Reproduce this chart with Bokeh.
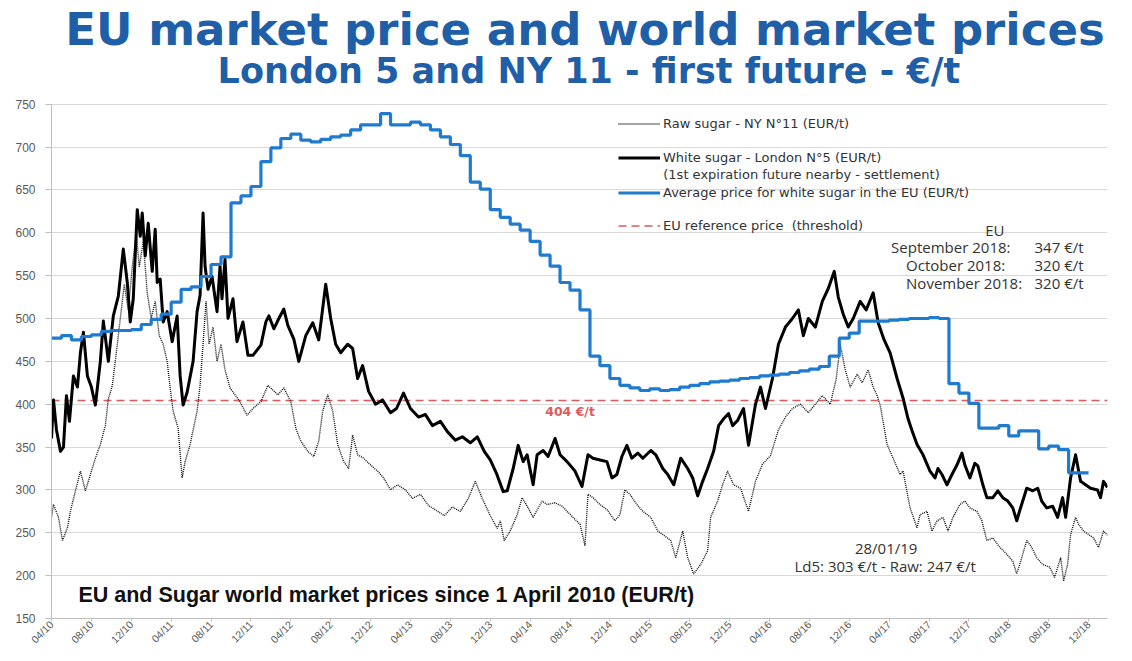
import math
from bokeh.plotting import figure
from bokeh.models import FixedTicker, Range1d, Label, Legend, LegendItem
from bokeh.embed import file_html
from bokeh.resources import INLINE

# ---------------- data ----------------
# time axis: months elapsed since 1 April 2010
tick_months = [0, 4, 8, 12, 16, 20, 24, 28, 32, 36, 40, 44, 48, 52, 56, 60, 64, 68,
               72, 76, 80, 84, 88, 92, 96, 100, 104]
tick_labels = ["04/10", "08/10", "12/10", "04/11", "08/11", "12/11", "04/12", "08/12",
               "12/12", "04/13", "08/13", "12/13", "04/14", "08/14", "12/14", "04/15",
               "08/15", "12/15", "04/16", "08/16", "12/16", "04/17", "08/17", "12/17",
               "04/18", "08/18", "12/18"]
y_ticks = [150, 200, 250, 300, 350, 400, 450, 500, 550, 600, 650, 700, 750]

# Average price for white sugar in the EU (monthly, Apr 2010 .. Nov 2018)
eu_month = list(range(104))
eu_avg = [477, 480, 475, 479, 481, 485, 486, 486, 487, 493, 499, 505, 519, 534, 537, 549,
          563, 572, 635, 643, 654, 683, 699, 710, 715, 708, 706, 709, 712, 714, 720, 726,
          726, 739, 726, 726, 729, 726, 720, 712, 703, 690, 659, 651, 627, 618, 610, 603,
          590, 574, 561, 542, 533, 510, 456, 445, 430, 422, 419, 416, 418, 416, 417, 420,
          422, 424, 426, 427, 428, 430, 431, 433, 434, 435, 437, 439, 441, 444, 456, 477,
          483, 497, 497, 497, 498, 499, 500, 500, 501, 500, 424, 413, 401, 372, 372, 375,
          363, 369, 369, 348, 351, 347, 320, 320]

# White sugar - London N°5 (EUR/t)
ld5_t = [0.0, 0.2, 0.5, 0.9, 1.2, 1.5, 1.8, 2.2, 2.6, 2.9, 3.2, 3.6, 4.0, 4.4, 4.9, 5.2,
         5.7, 6.2, 6.7, 7.2, 7.6, 7.9, 8.2, 8.6, 8.9, 9.1, 9.4, 9.7, 10.1, 10.4, 10.6, 10.9,
         11.2, 11.6, 12.1, 12.6, 12.9, 13.2, 13.6, 14.2, 14.6, 14.9, 15.2, 15.4, 15.7, 16.1,
         16.6, 16.9, 17.1, 17.4, 17.7, 18.2, 18.6, 19.2, 19.7, 20.2, 21.0, 21.5, 21.8, 22.3,
         22.8, 23.3, 23.7, 24.3, 24.8, 25.5, 26.2, 26.8, 27.5, 28.0, 28.5, 29.0, 29.7, 30.2,
         30.7, 31.2, 31.8, 32.5, 33.2, 34.0, 34.6, 35.3, 36.0, 36.8, 37.5, 38.2, 39.0, 39.7,
         40.5, 41.2, 42.0, 42.7, 43.4, 44.0, 44.6, 45.3, 45.7, 46.3, 46.8, 47.3, 47.7, 48.3,
         48.7, 49.3, 49.8, 50.5, 51.0, 51.7, 52.5, 53.2, 53.8, 54.3, 55.0, 55.7, 56.2, 56.7,
         57.2, 57.7, 58.2, 58.8, 59.3, 60.1, 60.6, 61.3, 61.8, 62.4, 63.1, 63.8, 64.3, 64.8,
         65.3, 65.8, 66.4, 66.9, 67.4, 67.9, 68.3, 68.8, 69.4, 69.9, 70.6, 71.1, 71.6, 72.3,
         72.9, 73.6, 74.3, 74.9, 75.4, 75.9, 76.6, 77.3, 77.9, 78.5, 78.9, 79.4, 79.9, 80.4,
         81.1, 81.7, 82.4, 82.9, 83.5, 84.1, 84.8, 85.4, 85.9, 86.3, 86.8, 87.4, 88.1, 88.6,
         88.9, 89.3, 89.8, 90.3, 90.8, 91.3, 91.6, 92.1, 92.6, 92.9, 93.4, 93.8, 94.4, 94.9,
         95.4, 95.9, 96.4, 96.8, 97.1, 97.8, 98.4, 98.9, 99.3, 99.8, 100.4, 100.9, 101.4,
         101.7, 102.2, 102.7, 103.2, 103.7, 104.2, 104.9, 105.2, 105.5, 105.9]
ld5_v = [360, 405, 370, 345, 350, 410, 380, 433, 420, 460, 484, 433, 420, 399, 450, 497,
         450, 503, 526, 581, 542, 496, 523, 627, 596, 623, 573, 611, 555, 604, 542, 546,
         496, 508, 473, 503, 433, 399, 414, 450, 508, 527, 623, 561, 534, 549, 508, 561,
         523, 569, 500, 523, 473, 496, 457, 457, 469, 496, 503, 488, 500, 511, 492, 476,
         450, 480, 495, 475, 540, 500, 470, 460, 470, 465, 430, 445, 415, 400, 405, 390,
         395, 413, 395, 385, 388, 375, 380, 368, 358, 362, 355, 362, 345, 335, 320, 298,
         299, 325, 352, 333, 341, 306, 341, 346, 339, 360, 341, 333, 322, 304, 341, 337,
         335, 333, 314, 318, 339, 352, 337, 343, 337, 346, 341, 325, 318, 306, 337, 325,
         314, 293, 310, 325, 345, 375, 383, 389, 375, 381, 395, 352, 400, 420, 395, 430,
         470, 490, 500, 510, 480, 500, 490, 520, 535, 555, 525, 505, 490, 500, 520, 510,
         530, 495, 475, 460, 430, 407, 383, 369, 353, 341, 322, 314, 325, 318, 306, 318,
         329, 343, 329, 314, 331, 328, 306, 291, 291, 299, 291, 287, 279, 264, 276, 302,
         299, 302, 287, 279, 281, 268, 291, 268, 314, 341, 310, 306, 302, 300, 291, 310,
         303]

# Raw sugar - NY N°11 (EUR/t)
raw_t = [0.0, 0.2, 0.7, 1.1, 1.6, 1.9, 2.4, 2.9, 3.4, 3.9, 4.4, 4.9, 5.4, 5.7, 6.1, 6.5,
         6.9, 7.3, 7.7, 8.1, 8.5, 8.8, 9.2, 9.6, 10.0, 10.4, 10.8, 11.2, 11.6, 11.9, 12.2,
         12.7, 13.1, 13.4, 13.9, 14.6, 14.9, 15.2, 15.5, 15.8, 16.2, 16.6, 17.0, 17.4, 17.9,
         18.9, 19.6, 20.2, 21.0, 21.7, 22.7, 23.3, 24.0, 24.5, 25.0, 25.7, 26.3, 26.8, 27.2,
         27.7, 28.2, 28.7, 29.3, 29.8, 30.2, 30.7, 31.3, 32.0, 32.7, 33.3, 34.0, 34.7, 35.5,
         36.2, 37.0, 37.8, 38.6, 39.4, 40.2, 41.0, 41.8, 42.5, 43.2, 44.0, 44.7, 45.0, 45.4,
         46.0, 46.7, 47.2, 47.8, 48.3, 49.2, 49.7, 50.5, 51.2, 51.7, 52.3, 53.0, 53.5, 53.8,
         54.3, 55.0, 55.7, 56.5, 57.0, 57.5, 58.0, 58.7, 59.3, 60.1, 60.8, 61.3, 62.1, 62.6,
         63.3, 63.8, 64.4, 65.1, 65.8, 66.1, 66.8, 67.3, 67.8, 68.4, 69.1, 69.9, 70.6, 71.3,
         72.1, 72.9, 73.6, 74.3, 75.1, 75.9, 76.6, 77.3, 78.1, 78.7, 79.1, 79.6, 80.1, 80.8,
         81.3, 81.9, 82.4, 82.8, 83.1, 83.8, 84.4, 85.1, 85.4, 86.1, 86.8, 87.1, 87.8, 88.3,
         88.8, 89.4, 89.9, 90.4, 91.1, 91.6, 92.1, 92.8, 93.3, 93.8, 94.4, 95.1, 95.8, 96.4,
         96.8, 97.3, 97.8, 98.3, 98.8, 99.4, 100.1, 100.6, 101.2, 101.5, 101.9, 102.2, 102.7,
         103.0, 103.5, 104.0, 104.5, 105.0, 105.5, 105.9]
raw_v = [268, 283, 268, 241, 256, 275, 299, 322, 299, 318, 337, 353, 375, 406, 422, 460,
         500, 540, 510, 560, 600, 560, 590, 530, 500, 520, 480, 470, 450, 419, 392, 372,
         314, 333, 353, 392, 422, 470, 520, 470, 490, 450, 470, 440, 419, 403, 387, 395,
         403, 422, 411, 419, 403, 372, 357, 345, 339, 357, 392, 411, 392, 353, 333, 325,
         364, 341, 337, 329, 322, 314, 300, 306, 300, 290, 295, 282, 276, 270, 280, 275,
         290, 310, 290, 270, 255, 264, 241, 252, 271, 291, 279, 268, 287, 283, 285, 281,
         275, 268, 260, 235, 295, 291, 283, 277, 264, 271, 300, 295, 283, 275, 268, 252,
         248, 241, 221, 252, 221, 202, 213, 229, 268, 287, 306, 322, 306, 302, 275, 310,
         330, 340, 370, 385, 395, 400, 390, 400, 410, 400, 430, 470, 440, 420, 435, 425,
         440, 420, 410, 399, 353, 337, 318, 322, 279, 256, 271, 275, 252, 264, 268, 252,
         268, 283, 287, 279, 275, 264, 241, 244, 233, 225, 217, 202, 221, 241, 233, 221,
         213, 210, 198, 221, 194, 213, 248, 268, 260, 252, 248, 244, 233, 252, 247]

ref_price = 404

# ---------------- styling ----------------
BLUE_TITLE = "#1F5FA8"
BLUE_LINE = "#1E7BCF"
RED = "#E05A5A"
GREY_TXT = "#595959"
LEG_TXT = "#333333"

# The plotting frame reaches the top of the canvas so that the two title lines can
# sit above the value axis (which is bounded to 150..750).
p = figure(width=1116, height=652, output_backend="svg", toolbar_location=None,
           title=None, x_range=Range1d(0, 105.9), y_range=Range1d(150, 871),
           min_border_left=51, min_border_right=9, min_border_bottom=31,
           min_border_top=0)
p.outline_line_color = None
p.background_fill_color = "white"
p.border_fill_color = "white"

# axes
x_ticker = FixedTicker(ticks=tick_months)
y_ticker = FixedTicker(ticks=y_ticks)
p.xaxis.ticker = x_ticker
p.xaxis.major_label_overrides = {m: l for m, l in zip(tick_months, tick_labels)}
p.xaxis.major_label_orientation = math.pi / 4
p.xaxis.minor_tick_line_color = None
p.xaxis.major_tick_out = 3
p.xaxis.major_tick_in = 0
p.xaxis.major_label_standoff = 1
p.yaxis.ticker = y_ticker
p.yaxis.bounds = (150, 750)
p.yaxis.minor_tick_line_color = None
p.yaxis.major_tick_out = 6
p.yaxis.major_tick_in = 0
p.yaxis.major_label_standoff = 10
for ax in (p.xaxis[0], p.yaxis[0]):
    ax.axis_line_color = "#BFBFBF"
    ax.major_tick_line_color = "#BFBFBF"
    ax.major_label_text_font = "Liberation Sans"
    ax.major_label_text_color = GREY_TXT
p.xaxis.major_label_text_font_size = "10.5px"
p.yaxis.major_label_text_font_size = "12px"
p.xgrid.visible = False
p.ygrid.ticker = y_ticker
p.ygrid.bounds = (150, 750)
p.ygrid.grid_line_color = "#D9D9D9"

# series
r_ref = p.hspan(y=[ref_price], line_color=RED, line_dash="8 5", line_width=1.6)
r_raw = p.line(raw_t, raw_v, line_color="#111111", line_width=1.4, line_dash="1 1")
r_ld5 = p.line(ld5_t, ld5_v, line_color="black", line_width=3.0, line_join="round")
r_eu = p.step(eu_month + [eu_month[-1] + 1], eu_avg + [eu_avg[-1]], mode="after",
              line_color=BLUE_LINE, line_width=3.2)

# legend: one small legend per entry, placed where the original has them
def add_legend(label, renderer, y_rel):
    lg = Legend(items=[LegendItem(label=label, renderers=[renderer])],
                location=(567, y_rel), padding=0, margin=0, spacing=0,
                glyph_width=42, glyph_height=13, label_height=13, label_standoff=3,
                label_text_font="DejaVu Sans", label_text_font_size="13px",
                label_text_color=LEG_TXT, background_fill_alpha=0, border_line_alpha=0)
    p.add_layout(lg, "center")

add_legend("Raw sugar - NY N°11 (EUR/t)", r_raw, 487)
add_legend("White sugar - London N°5 (EUR/t)", r_ld5, 453)
add_legend("Average price for white sugar in the EU (EUR/t)", r_eu, 418)
add_legend("EU reference price  (threshold)", r_ref, 385)

# texts
def lab(x, y, text, size, color="#333333", font="Open Sans", style="normal",
        align="left", baseline="middle"):
    p.add_layout(Label(x=x, y=y, text=text, text_font=font, text_font_size=size,
                       text_color=color, text_font_style=style, text_align=align,
                       text_baseline=baseline))

lab(53.5, 837.5, "EU market price and world market prices", "45px", color=BLUE_TITLE,
    font="DejaVu Sans", style="bold", align="center", baseline="alphabetic")
lab(53.9, 789, "London 5 and NY 11 - first future - €/t", "35px", color=BLUE_TITLE,
    font="DejaVu Sans", style="bold", align="center", baseline="alphabetic")
lab(61.35, 668, "(1st expiration future nearby - settlement)", "13px", color=LEG_TXT,
    font="DejaVu Sans")
lab(52.0, 392, f"{ref_price} €/t", "12.5px", color=RED, font="DejaVu Sans", style="bold",
    align="center")
lab(2.7, 177, "EU and Sugar world market prices since 1 April 2010 (EUR/t)", "21.5px",
    color="#111111", font="Liberation Sans", style="bold")
lab(83.7, 232, "28/01/19", "15px", color="#333333", align="center")
lab(83.6, 211, "Ld5: 303 €/t - Raw: 247 €/t", "15px", color="#333333", align="center")
lab(94.6, 603, "EU", "15px", align="center")
lab(84.2, 583, "September 2018:", "15px")
lab(85.7, 562, "October 2018:", "15px")
lab(85.7, 541, "November 2018:", "15px")
lab(103.5, 583, "347 €/t", "15px", align="right")
lab(103.5, 562, "320 €/t", "15px", align="right")
lab(103.5, 541, "320 €/t", "15px", align="right")

open("out.html", "w").write(file_html(p, INLINE))
